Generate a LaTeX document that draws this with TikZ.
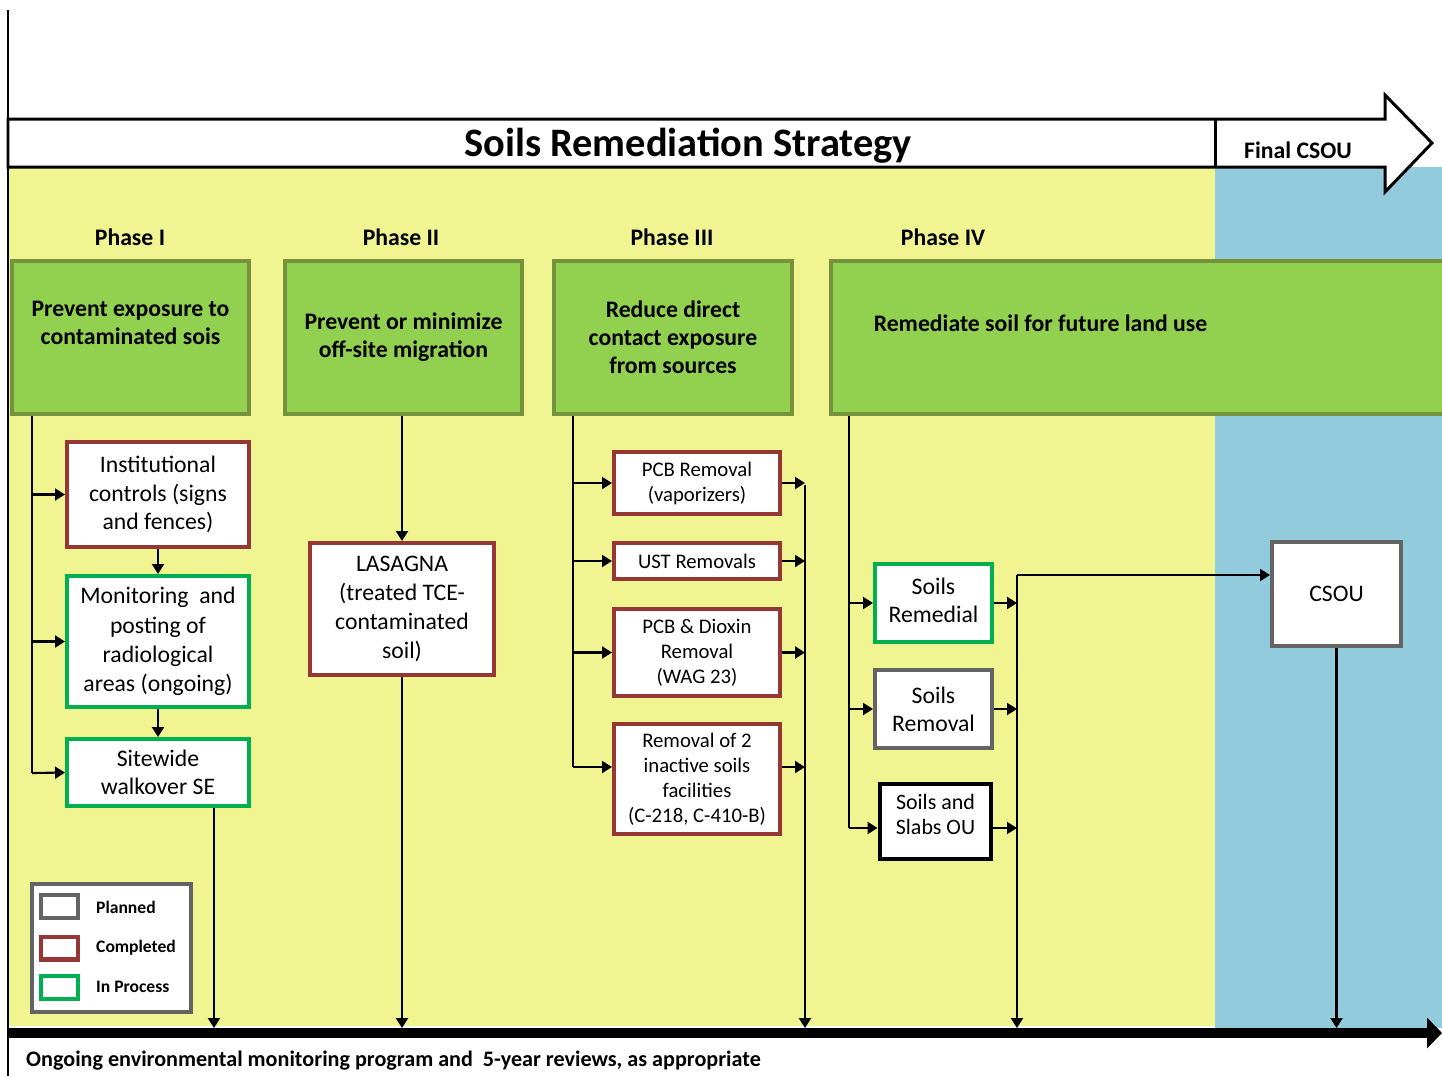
\documentclass[tikz,border=0pt]{standalone}
\usepackage{fontspec}
\setmainfont{Carlito}
\usetikzlibrary{arrows.meta,positioning,calc}
\definecolor{bgyellow}{RGB}{240,245,145}
\definecolor{bgblue}{RGB}{146,203,220}
\definecolor{goalfill}{RGB}{146,208,80}
\definecolor{goaledge}{RGB}{118,146,60}
\definecolor{donered}{RGB}{149,55,53}
\definecolor{busygreen}{RGB}{0,176,80}
\definecolor{plangray}{RGB}{100,100,100}

\begin{document}
\begin{tikzpicture}[x=0.02cm, y=-0.02cm,
  goal/.style={draw=goaledge, fill=goalfill, line width=2.3pt, inner sep=0pt, align=center, font=\bfseries\fontsize{13.5}{16}\selectfont},
  box/.style={draw, fill=white, line width=2.3pt, inner sep=0pt, align=center, font=\fontsize{13.5}{16}\selectfont},
  smalltext/.style={font=\fontsize{11.8}{14.2}\selectfont},
  done/.style={box, draw=donered},
  busy/.style={box, draw=busygreen},
  plan/.style={box, draw=plangray},
  phase/.style={font=\bfseries\fontsize{13.5}{16}\selectfont},
  keytext/.style={anchor=west, font=\bfseries\fontsize{10}{12}\selectfont},
  link/.style={line width=1.2pt},
  arr/.style={link, -{Triangle[length=0.2cm, width=0.24cm]}}]
\clip (0,0) rectangle (1442,1076);
\fill[white] (0,0) rectangle (1442,1076);
\fill[bgyellow] (8,167) rectangle (1215,1026);
\fill[bgblue] (1215,167) rectangle (1442,1028);
\draw[line width=1pt] (8,10) -- (8,1076);

% banner arrow
\draw[fill=white, line width=1.7pt] (8,119) -- (1385,119) -- (1385,95) -- (1432,143)
  -- (1385,192) -- (1385,167) -- (8,167) -- cycle;
\draw[line width=1.7pt] (1215,119) -- (1215,167);
\node[font=\bfseries\fontsize{23}{26}\selectfont] (title) at (688,146) {Soils Remediation Strategy};
\node[phase] (final) at (1298,150) {Final CSOU};

% phases
\node[phase] (p1) at (130,237) {Phase I};
\node[phase] (p2) at (401,237) {Phase II};
\node[phase] (p3) at (672,237) {Phase III};
\node[phase] (p4) at (943,237) {Phase IV};

\node[goal, minimum width=4.74cm, minimum height=3.06cm,
  label={[phase, align=center, yshift=0.3cm]center:Prevent exposure to\\contaminated sois}] (g1) at (130.5,337.5) {};
\node[goal, minimum width=4.74cm, minimum height=3.06cm] (g2) at (403.5,337.5) {Prevent or minimize\\off-site migration};
\node[goal, minimum width=4.76cm, minimum height=3.06cm] (g3) at (673,337.5) {Reduce direct\\contact exposure\\from sources};
\node[goal, minimum width=12.34cm, minimum height=3.06cm,
  label={[phase, xshift=-1.98cm, yshift=0.28cm]center:Remediate soil for future land use}] (g4) at (1139.5,337.5) {};

% phase I actions
\node[done, minimum width=3.64cm, minimum height=2.10cm] (inst) at (158,494.5) {Institutional\\controls (signs\\and fences)};
\node[busy, minimum width=3.64cm, minimum height=2.62cm, font=\fontsize{13.5}{16.6}\selectfont] (mon) at (158,641.5) {Monitoring~ and\\posting of\\radiological\\areas (ongoing)};
\node[busy, minimum width=3.64cm, minimum height=1.34cm] (site) at (158,772.5) {Sitewide\\walkover SE};

% phase II actions
\node[done, minimum width=3.68cm, minimum height=2.64cm, font=\fontsize{13.5}{16.6}\selectfont] (las) at (402,609) {LASAGNA\\(treated TCE-\\contaminated\\soil)};

% phase III actions
\node[done, smalltext, minimum width=3.32cm, minimum height=1.24cm] (pcb) at (697,483) {PCB Removal\\(vaporizers)};
\node[done, smalltext, minimum width=3.32cm, minimum height=0.72cm] (ust) at (697,561) {UST Removals};
\node[done, smalltext, minimum width=3.32cm, minimum height=1.74cm] (dio) at (697,652.5) {PCB \& Dioxin\\Removal\\(WAG 23)};
\node[done, smalltext, minimum width=3.32cm, minimum height=2.20cm] (inact) at (697,779) {Removal of 2\\inactive soils\\facilities\\(C-218, C-410-B)};

% phase IV actions
\node[busy, minimum width=2.34cm, minimum height=1.56cm,
  label={[align=center, font=\fontsize{13.5}{16}\selectfont, yshift=0.06cm]center:Soils\\Remedial}] (srem) at (933.5,603) {};
\node[plan, minimum width=2.34cm, minimum height=1.56cm] (smove) at (933.5,709) {Soils\\Removal};
\node[box, line width=2.8pt, minimum width=2.22cm, minimum height=1.50cm,
  label={[align=center, font=\fontsize{12.5}{14.2}\selectfont, yshift=0.14cm]center:Soils and\\Slabs OU}] (slab) at (935.5,821.5) {};
\node[plan, minimum width=2.58cm, minimum height=2.08cm] (csou) at (1336.5,594) {CSOU};

% legend
\node[plan, minimum width=3.18cm, minimum height=2.56cm] (key) at (111.5,948) {};
\node[plan, minimum width=0.74cm, minimum height=0.46cm] (kplan) at (59.5,906.5) {};
\node[done, minimum width=0.74cm, minimum height=0.46cm] (kdone) at (59.5,948) {};
\node[busy, minimum width=0.74cm, minimum height=0.46cm] (kbusy) at (59.5,987.5) {};
\node[keytext] (lplan) at (90,907) {Planned};
\node[keytext] (ldone) at (90,948) {Completed};
\node[keytext] (lbusy) at (90,987) {In Process};

% timeline
\coordinate (base) at (0,1028);
\coordinate (tl0) at (8,1033);
\coordinate (tl1) at (1442,1033);
\draw[line width=5.6pt, -{Triangle[length=0.3cm, width=0.6cm]}] (tl0) -- (tl1);
\node[anchor=west, font=\bfseries\fontsize{12.6}{14}\selectfont] (ongoing) at (20,1061)
  {Ongoing environmental monitoring program and~ 5-year reviews, as appropriate};

% phase I links
\coordinate (t1) at (32,773);
\draw[link] (g1.south -| t1) -- (t1);
\draw[arr] (t1 |- inst.west) -- (inst.west);
\draw[arr] (t1 |- mon.west) -- (mon.west);
\draw[arr] (t1) -- (site.west);
\draw[arr] (inst) -- (mon);
\draw[arr] (mon) -- (site);
\coordinate (d1) at (214,1028);
\draw[arr] (site.south -| d1) -- (d1);

% phase II links
\draw[arr] (g2.south -| las) -- (las);
\draw[arr] (las) -- (las |- base);

% phase III links
\coordinate (t3) at (573,767);
\draw[link] (g3.south -| t3) -- (t3);
\draw[arr] (t3 |- pcb.west) -- (pcb.west);
\draw[arr] (t3 |- ust.west) -- (ust.west);
\draw[arr] (t3 |- dio.west) -- (dio.west);
\draw[arr] (t3) -- (t3 -| inact.west);
\coordinate (r3) at (805,485);
\draw[arr] (pcb.east) -- (pcb.east -| r3);
\draw[arr] (ust.east) -- (ust.east -| r3);
\draw[arr] (dio.east) -- (dio.east -| r3);
\draw[arr] (t3 -| inact.east) -- (t3 -| r3);
\draw[arr] (r3) -- (r3 |- base);

% phase IV links
\coordinate (t4) at (849,828);
\draw[link] (g4.south -| t4) -- (t4);
\draw[arr] (t4 |- srem.west) -- (srem.west);
\draw[arr] (t4 |- smove.west) -- (smove.west);
\draw[arr] (t4) -- (t4 -| slab.west);
\coordinate (r4) at (1017,575);
\draw[arr] (srem.east) -- (srem.east -| r4);
\draw[arr] (smove.east) -- (smove.east -| r4);
\draw[arr] (slab.east |- t4) -- (t4 -| r4);
\draw[arr] (r4) -- (r4 |- base);
\draw[arr] (r4) -- (r4 -| csou.west);
\draw[arr] (csou) -- (csou |- base);
\end{tikzpicture}
\end{document}
